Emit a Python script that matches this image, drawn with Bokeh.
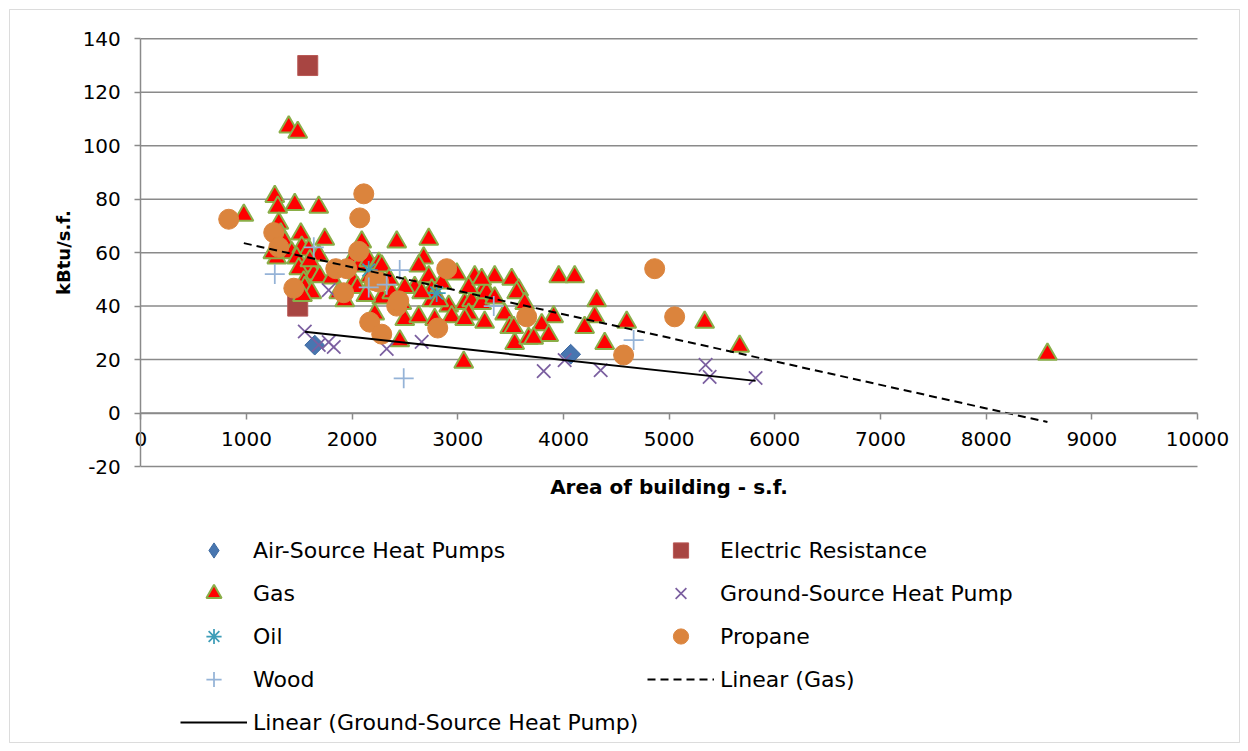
import numpy as np
from bokeh.plotting import figure
from bokeh.models import Range1d, LinearAxis, FixedTicker, Legend, LegendItem, BoxAnnotation
from bokeh.embed import file_html
from bokeh.resources import INLINE

# ---------------- data ----------------
x_ticks = [0, 1000, 2000, 3000, 4000, 5000, 6000, 7000, 8000, 9000, 10000]
y_ticks = [-20, 0, 20, 40, 60, 80, 100, 120, 140]

ashp_x = [1646, 4068]
ashp_y = [25.4, 22.0]

elec_x = [1580, 1485]
elec_y = [130, 40]

gas_x = [975, 1268, 1296, 1306, 1324, 1362, 1400, 1485, 1457, 1514,
         1684, 1741, 1287, 1429, 1523, 1589, 1476, 1608, 1684, 1495,
         1637, 1542, 1693, 1552, 1618, 1996, 2062, 2091, 2157, 2015,
         2214, 2166, 2252, 2280, 2422, 2725, 2677, 2630, 2725, 2592,
         2753, 2498, 2990, 3160, 3349, 3510, 3254, 3576, 2280, 2214,
         2498, 2451, 2630, 2781, 2753, 2914, 2942, 3065, 3131, 3103,
         3226, 3254, 3273, 3443, 3491, 3538, 3557, 3056, 3670, 3955,
         4106, 4314, 4295, 4200, 4598, 4390, 3907, 3794, 3860, 3718,
         3633, 3529, 5336, 5667, 8580, 2375, 2470, 1807, 1873, 1930,
         2185, 2658, 2820, 2848, 3065, 3349, 3103, 3226, 1250, 1600,
         2050, 2350, 1530, 2130]
gas_y = [74, 81, 77, 71, 67, 64, 107, 105, 78, 67,
         77, 65, 58, 60, 62, 61, 58, 55, 59, 54,
         52, 49, 51, 47, 45, 57, 55, 64, 57, 49,
         54, 51, 56, 55, 64, 65, 58, 55, 51, 47,
         46, 47, 52, 51, 51, 50, 47, 46, 43, 37,
         35, 27, 36, 35, 42, 40, 36, 41, 42, 37,
         41, 34, 45, 37, 32, 26, 45, 19, 28, 51,
         51, 42, 36, 32, 34, 26, 36, 33, 29, 28,
         41, 32, 34, 25, 22, 45, 41, 50.5, 45, 42,
         48.6, 45, 42, 48.6, 35, 43, 47, 50, 60, 57,
         47, 50, 44, 44]

gshp_x = [1552, 1684, 1778, 1826, 1778, 2327, 2658, 3813, 4011, 4352, 5345, 5383, 5818]
gshp_y = [30.5, 25.5, 26.5, 24.7, 46, 24, 26.6, 15.7, 19.8, 16, 18, 13.5, 13.1]

oil_x = [2157, 2800]
oil_y = [53.5, 44.9]

propane_x = [832, 1258, 1306, 1448, 1845, 1949, 1920, 2062, 2072, 2110, 2214,
             2252, 2166, 2280, 2422, 2441, 2810, 2895, 3652, 4863, 5052, 4569]
propane_y = [72.5, 67.5, 62, 46.7, 54, 54, 45, 60.5, 73, 82, 49.5,
             49, 34, 29.5, 40, 42, 31.8, 54, 36, 54, 36, 21.7]

wood_x = [1268, 1637, 2157, 2327, 2450, 2488, 3340, 4664]
wood_y = [52, 62, 47, 48, 53.5, 13, 40, 27.3]

# ---------------- layout (page pixels) ----------------
W, H = 1248, 751
X0_PX, X1_PX = 140.3, 1197.0      # where x = first / last tick sits
YT_PX, YB_PX = 38.3, 466.0        # where y = last / first tick sits
sx = (X1_PX - X0_PX) / (x_ticks[-1] - x_ticks[0])
sy = (YB_PX - YT_PX) / (y_ticks[-1] - y_ticks[0])
x_range = Range1d(x_ticks[0] - X0_PX / sx, x_ticks[0] + (W - X0_PX) / sx)
y_range = Range1d(y_ticks[0] - (H - YB_PX) / sy, y_ticks[-1] + YT_PX / sy)

FONT = "DejaVu Sans"
GRID = "#8a8a8a"

p = figure(width=W, height=H, output_backend="svg", toolbar_location=None,
           x_range=x_range, y_range=y_range,
           x_axis_location=None, y_axis_location=None,
           min_border=0, min_border_left=0, min_border_right=0,
           min_border_top=0, min_border_bottom=0)
p.outline_line_color = None
p.background_fill_color = "white"
p.border_fill_color = "white"
p.xgrid.visible = False
p.ygrid.visible = False

# outer chart border
p.add_layout(BoxAnnotation(left=9, right=W - 9, top=9, bottom=H - 9,
                           left_units="screen", right_units="screen",
                           top_units="screen", bottom_units="screen",
                           fill_alpha=0, line_color=GRID, line_width=1))

# horizontal gridlines
p.segment(x0=[x_ticks[0]] * len(y_ticks), x1=[x_ticks[-1]] * len(y_ticks),
          y0=y_ticks, y1=y_ticks, line_color=GRID, line_width=1.5)

# y axis at x = 0
yax = LinearAxis(fixed_location=x_ticks[0], bounds=(y_ticks[0], y_ticks[-1]),
                 ticker=FixedTicker(ticks=y_ticks))
yax.major_label_overrides = {t: str(t) for t in y_ticks}
yax.axis_line_color = GRID
yax.axis_line_width = 1.5
yax.major_tick_line_color = GRID
yax.major_tick_line_width = 1.5
yax.major_tick_out = 6
yax.major_tick_in = 0
yax.minor_tick_line_color = None
yax.major_label_text_font = FONT
yax.major_label_text_font_size = "20px"
yax.major_label_text_color = "black"
yax.major_label_standoff = 14
yax.axis_label = "kBtu/s.f."
yax.axis_label_text_font = FONT
yax.axis_label_text_font_style = "bold"
yax.axis_label_text_font_size = "18px"
yax.axis_label_text_color = "black"
yax.axis_label_standoff = 5
p.add_layout(yax, "left")

# x axis crossing at y = 0
xax = LinearAxis(fixed_location=0, bounds=(x_ticks[0], x_ticks[-1]),
                 ticker=FixedTicker(ticks=x_ticks))
xax.major_label_overrides = {t: str(t) for t in x_ticks}
xax.axis_line_color = GRID
xax.axis_line_width = 1.5
xax.major_tick_line_color = GRID
xax.major_tick_line_width = 1.5
xax.major_tick_out = 6
xax.major_tick_in = 0
xax.minor_tick_line_color = None
xax.major_label_text_font = FONT
xax.major_label_text_font_size = "20px"
xax.major_label_text_color = "black"
xax.major_label_standoff = 13
p.add_layout(xax, "below")

# x axis title under the plot area
xt = LinearAxis(fixed_location=y_ticks[0], bounds=(x_ticks[0], x_ticks[-1]),
                ticker=FixedTicker(ticks=[]))
xt.axis_line_color = None
xt.major_tick_out = 0
xt.major_tick_in = 0
xt.minor_tick_out = 0
xt.minor_tick_in = 0
xt.major_label_standoff = 0
xt.axis_label = "Area of building - s.f."
xt.axis_label_text_font = FONT
xt.axis_label_text_font_style = "bold"
xt.axis_label_text_font_size = "20px"
xt.axis_label_text_color = "black"
xt.axis_label_standoff = 8
p.add_layout(xt, "below")

# ---------------- series ----------------
ASHP_FILL, ASHP_LINE = "#4876B0", "#3D69A0"
# diamond glyph (used as the legend swatch; hidden under the rotated squares)
r_ashp_key = p.scatter(ashp_x, ashp_y, marker="diamond", size=12,
                       fill_color=ASHP_FILL, line_color=ASHP_LINE, line_width=1)
r_ashp = p.scatter(ashp_x, ashp_y, marker="square", angle=np.pi / 4, size=14,
                   fill_color=ASHP_FILL, line_color=ASHP_LINE, line_width=1)
r_elec = p.scatter(elec_x, elec_y, marker="square", size=20,
                   fill_color="#A84542", line_color="#B85855", line_width=1)
r_gas = p.scatter(gas_x, gas_y, marker="triangle", size=19,
                  fill_color="#FF0000", line_color="#8AAE48", line_width=2)
r_gshp = p.scatter(gshp_x, gshp_y, marker="x", size=19,
                   line_color="#7B5FA0", line_width=1.75)
r_oil = p.scatter(oil_x, oil_y, marker="asterisk", size=18,
                  line_color="#3E9DB8", line_width=1.75)
r_prop = p.scatter(propane_x, propane_y, marker="circle", size=20,
                   fill_color="#DB843D", line_color="#DB843D")
r_wood = p.scatter(wood_x, wood_y, marker="cross", size=20,
                   line_color="#95B3D7", line_width=1.75)


def trend(xs, ys):
    m, b = np.polyfit(np.asarray(xs, float), np.asarray(ys, float), 1)
    x0, x1 = min(xs), max(xs)
    return [x0, x1], [m * x0 + b, m * x1 + b]


gx, gy = trend(gas_x, gas_y)
hx, hy = trend(gshp_x, gshp_y)
r_lgas = p.line(gx, gy, line_color="black", line_width=2, line_dash="8 5")
r_lgshp = p.line(hx, hy, line_color="black", line_width=2)

items = [
    LegendItem(label="Air-Source Heat Pumps", renderers=[r_ashp_key]),
    LegendItem(label="Electric Resistance", renderers=[r_elec]),
    LegendItem(label="Gas", renderers=[r_gas]),
    LegendItem(label="Ground-Source Heat Pump", renderers=[r_gshp]),
    LegendItem(label="Oil", renderers=[r_oil]),
    LegendItem(label="Propane", renderers=[r_prop]),
    LegendItem(label="Wood", renderers=[r_wood]),
    LegendItem(label="Linear (Gas)", renderers=[r_lgas]),
    LegendItem(label="Linear (Ground-Source Heat Pump)", renderers=[r_lgshp]),
]
legend = Legend(items=items, orientation="horizontal", ncols=2,
                location=(180, 10), glyph_width=67, glyph_height=38,
                label_standoff=6, spacing=5, padding=0, margin=0,
                label_width=389,
                label_text_font=FONT, label_text_font_size="22px",
                label_text_color="black",
                border_line_color=None, background_fill_alpha=0)
p.add_layout(legend, "center")

open("out.html", "w").write(file_html(p, INLINE))
